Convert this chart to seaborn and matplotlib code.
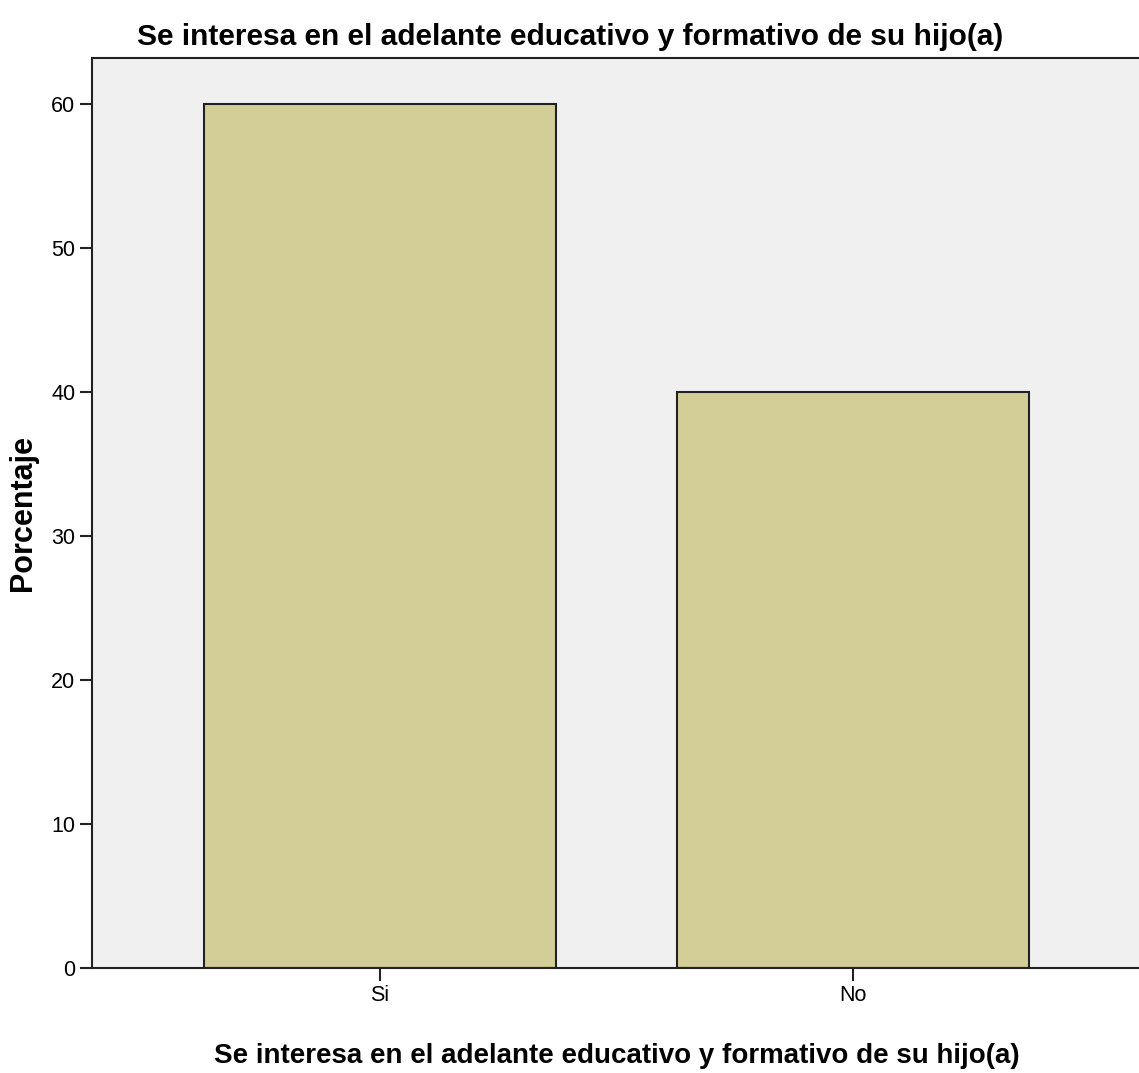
import matplotlib
matplotlib.use("Agg")
import matplotlib.pyplot as plt
import seaborn as sns
import pandas as pd

# data
categorias = ["Si", "No"]
porcentajes = [60, 40]
titulo = "Se interesa en el adelante educativo y formativo de su hijo(a)"

df = pd.DataFrame({"cat": categorias, "pct": porcentajes})

sns.set_style("white")
plt.rcParams["font.family"] = ["Liberation Sans", "DejaVu Sans"]
plt.rcParams["text.color"] = "black"
plt.rcParams["axes.labelcolor"] = "black"

fig = plt.figure(figsize=(11.39, 10.73), dpi=100)
ax = fig.add_axes([0.0808, 0.0979, 0.9192, 0.8481])
ax.set_facecolor("#F0F0F0")

sns.barplot(data=df, x="cat", y="pct", color="#D3CE97", saturation=1,
            width=0.746, edgecolor="#222222", linewidth=1.5, ax=ax)

ax.set_xlim(-0.609, 1.605)
ax.set_ylim(0, 63.2)
ax.set_yticks([0, 10, 20, 30, 40, 50, 60])
ax.tick_params(axis="both", direction="out", length=9, width=1.5, colors="#222222",
               labelsize=15.5, labelcolor="black", left=True, bottom=True, pad=3)

for s in ["left", "bottom", "top"]:
    ax.spines[s].set_visible(True)
    ax.spines[s].set_color("#222222")
    ax.spines[s].set_linewidth(1.5)
ax.spines["right"].set_visible(False)

ax.set_xlabel(titulo, fontsize=20, fontweight="bold")
ax.xaxis.set_label_coords(0.501, -0.083)
ax.set_ylabel("Porcentaje", fontsize=22, fontweight="bold")
ax.yaxis.set_label_coords(-0.052, 0.5)
ax.set_title(titulo, fontsize=21.5, fontweight="bold", pad=9, x=0.457)

fig.savefig("out.png", dpi=100)
